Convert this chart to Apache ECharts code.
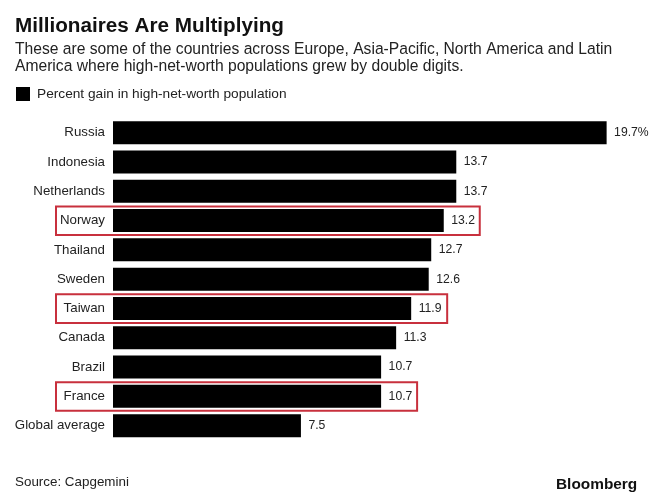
<!DOCTYPE html>
<html><head><meta charset="utf-8">
<style>html,body{margin:0;padding:0;background:#fff}#c{width:671px;height:503px}</style>
<script src="https://cdn.jsdelivr.net/npm/echarts@6/dist/echarts.min.js"></script>
</head><body><div id="c"></div>
<script>
const categories = ['Russia','Indonesia','Netherlands','Norway','Thailand','Sweden','Taiwan','Canada','Brazil','France','Global average'];
const values = [19.7,13.7,13.7,13.2,12.7,12.6,11.9,11.3,10.7,10.7,7.5];
const highlighted = ['Norway','Taiwan','France'];
const seriesName = 'Percent gain in high-net-worth population';
const font = '"Liberation Sans", Arial, sans-serif';
const chart = echarts.init(document.getElementById('c'), null, {renderer:'canvas'});
const boxData = highlighted.map(n => [values[categories.indexOf(n)], n]);
chart.setOption({
  animation:false,
  backgroundColor:'#fff',
  textStyle:{fontFamily:font},
  title:[
    {text:'Millionaires Are Multiplying',left:15,top:16,padding:0,textStyle:{fontSize:20.7,fontWeight:'bold',color:'#111',fontFamily:font}},
    {text:'These are some of the countries across Europe, Asia-Pacific, North America and Latin\nAmerica where high-net-worth populations grew by double digits.',left:15,top:41,padding:0,textStyle:{fontSize:15.65,fontWeight:'normal',color:'#222',lineHeight:17,fontFamily:font}},
    {text:'Source: Capgemini',left:15,top:476,padding:0,textStyle:{fontSize:13.4,fontWeight:'normal',color:'#222',fontFamily:font}},
    {text:'Bloomberg',left:556,top:477,padding:0,textStyle:{fontSize:15.4,fontWeight:'bold',color:'#111',fontFamily:font}}
  ],
  legend:{data:[{name:seriesName,icon:'rect'}],left:16,top:87,padding:0,itemWidth:14,itemHeight:14,itemGap:7,selectedMode:false,textStyle:{fontSize:13.7,color:'#222',fontFamily:font,padding:[0,0,0,2]}},
  grid:{left:113,top:118,width:550,height:322.3,containLabel:false},
  xAxis:{type:'value',min:0,max:21.95,show:false},
  yAxis:{type:'category',inverse:true,data:categories,axisLine:{show:false},axisTick:{show:false},axisLabel:{fontSize:13.3,color:'#222',margin:8,fontFamily:font}},
  series:[
    {type:'custom',name:'highlight',silent:true,z:1,clip:false,encode:{x:0,y:1},data:boxData,
     renderItem:(p,api)=>{
       const end=api.coord([api.value(0),api.value(1)]);
       const zero=api.coord([0,api.value(1)]);
       const h=api.size([0,1])[1];
       const left=zero[0]-57,right=end[0]+36;
       return {type:'rect',shape:{x:left,y:end[1]-h/2+0.5,width:right-left,height:h-0.7},style:{fill:'none',stroke:'#c8303d',lineWidth:2}};
     }},
    {type:'bar',name:seriesName,data:values,barWidth:23,z:2,itemStyle:{color:'#000'},
     label:{show:true,position:'right',distance:7.5,fontSize:12.2,color:'#222',fontFamily:font,
       formatter:p=>p.dataIndex===0?p.value.toFixed(1)+'%':p.value.toFixed(1)}}
  ]
});
</script></body></html>
